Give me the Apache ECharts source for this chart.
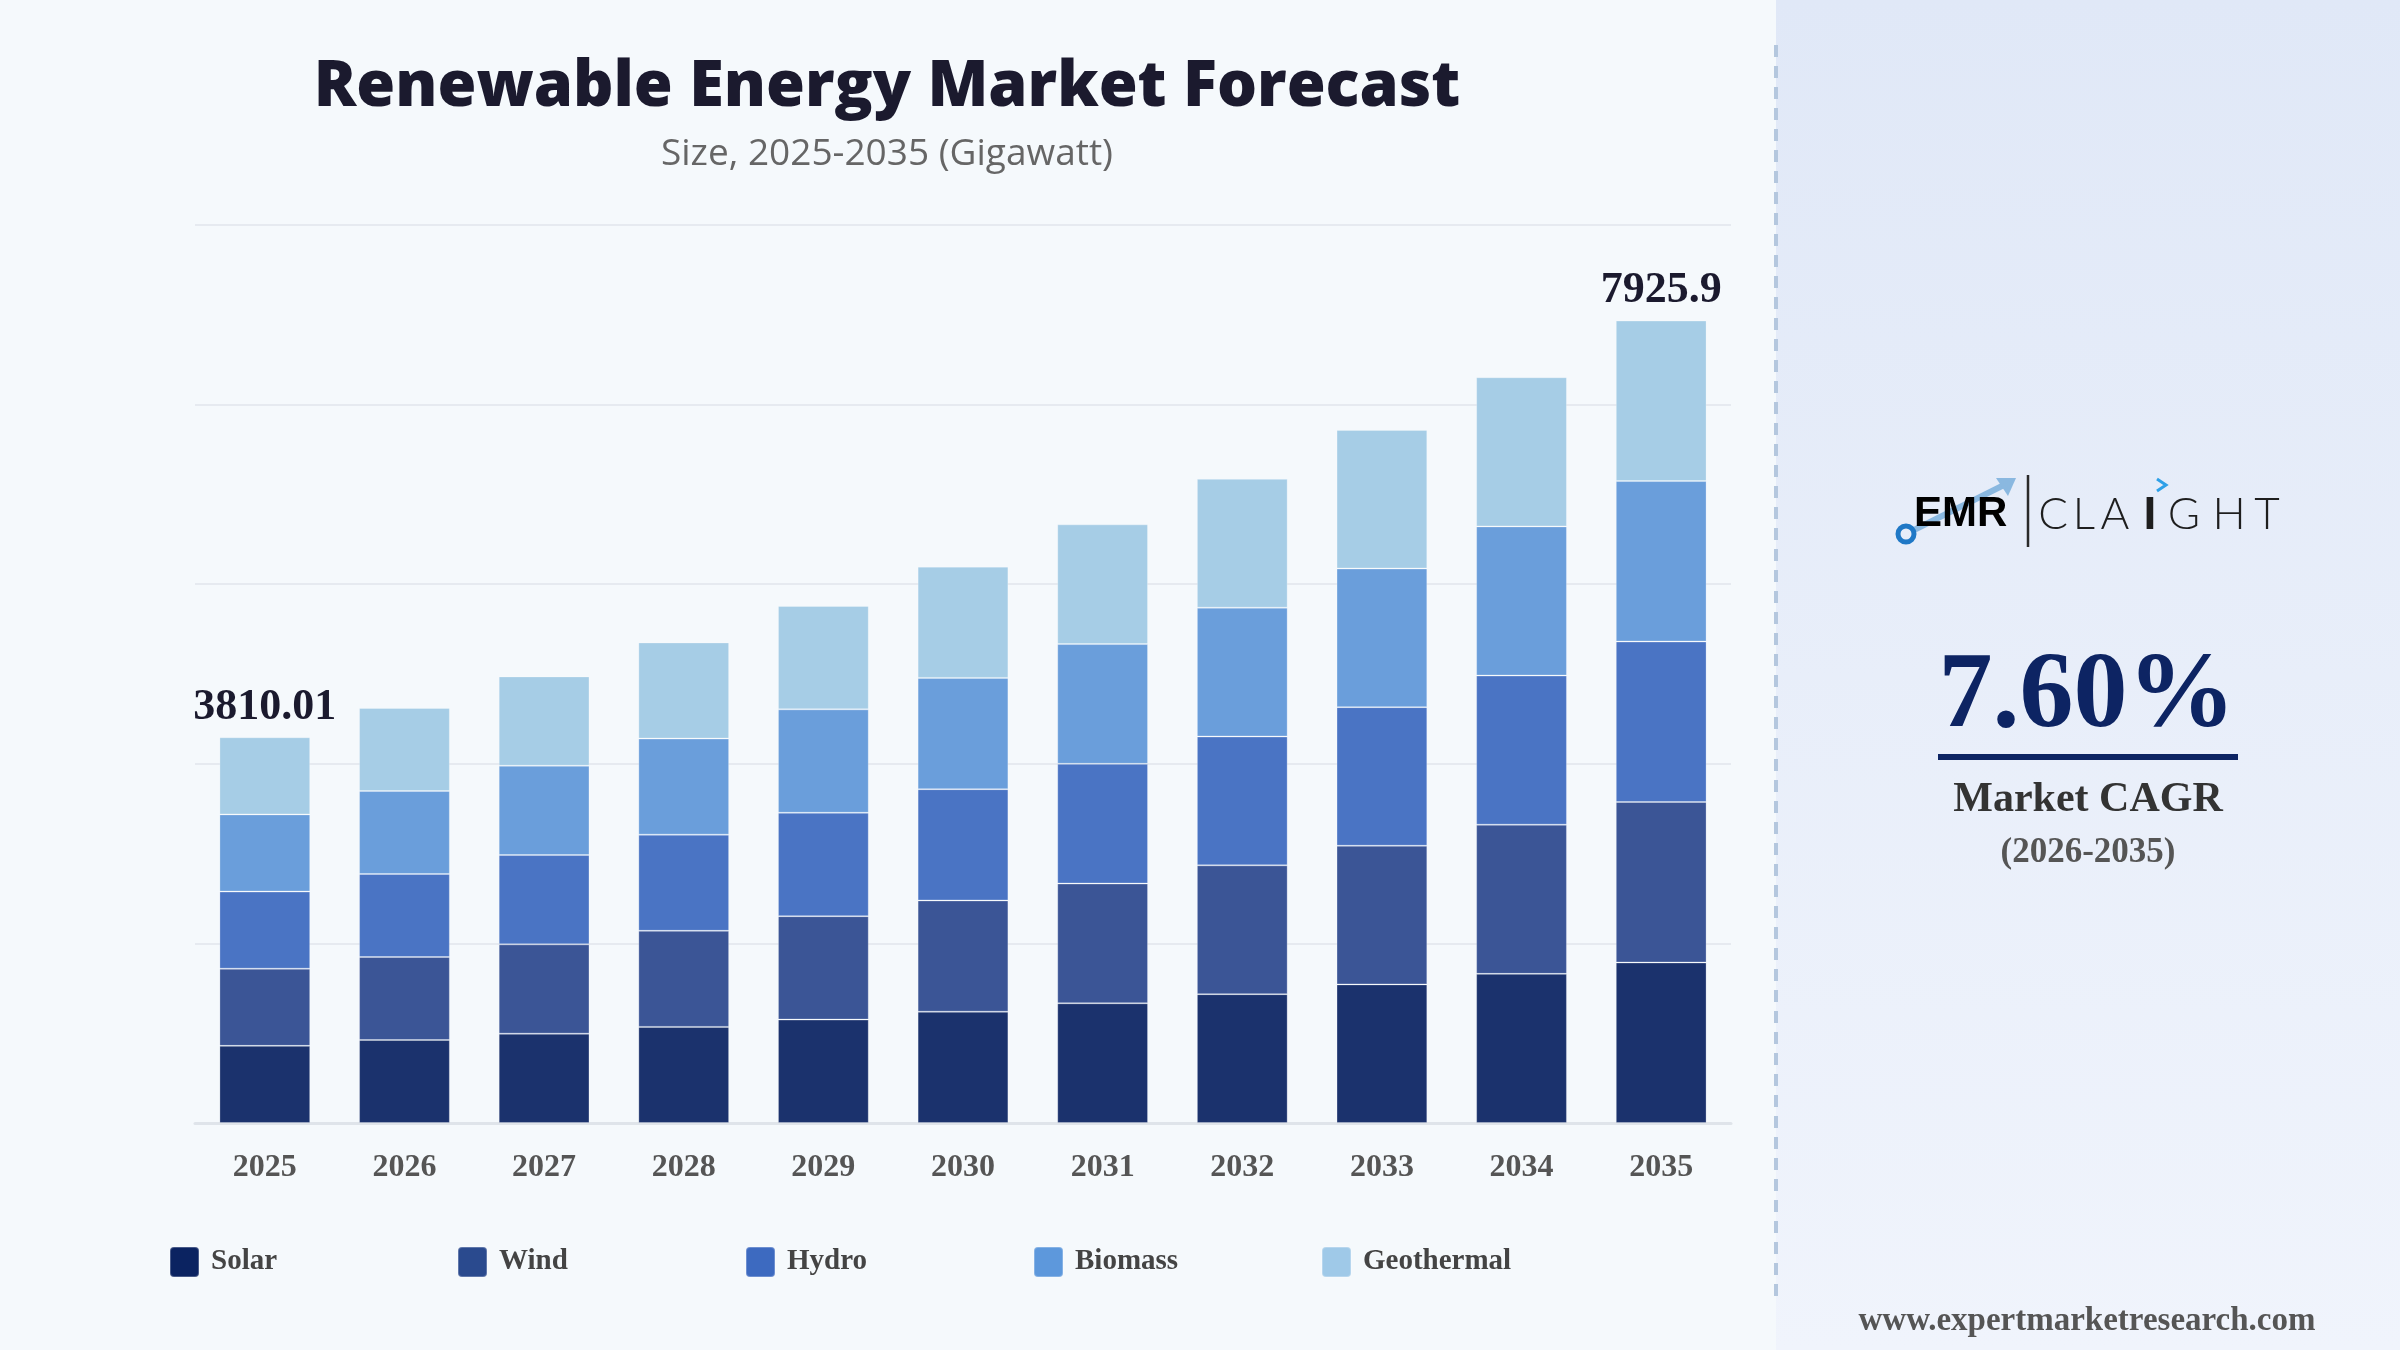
<!DOCTYPE html>
<html>
<head>
<meta charset="utf-8">
<script src="https://cdn.jsdelivr.net/npm/echarts@6/dist/echarts.min.js"></script>
<style>
  html, body { margin: 0; padding: 0; background: #f5f9fc; }
  #chart { width: 2400px; height: 1350px; }
</style>
</head>
<body>
<div id="chart"></div>
<script>
// values (Gigawatt), each year split evenly over 5 sources
const years = ['2025', '2026', '2027', '2028', '2029', '2030', '2031', '2032', '2033', '2034', '2035'];
const solar = [762.0, 819.9, 882.2, 949.3, 1021.4, 1099.1, 1182.6, 1272.5, 1369.2, 1473.2, 1585.2];
const wind = [762.0, 819.9, 882.2, 949.3, 1021.4, 1099.1, 1182.6, 1272.5, 1369.2, 1473.2, 1585.2];
const hydro = [762.0, 819.9, 882.2, 949.3, 1021.4, 1099.1, 1182.6, 1272.5, 1369.2, 1473.2, 1585.2];
const biomass = [762.0, 819.9, 882.2, 949.3, 1021.4, 1099.1, 1182.6, 1272.5, 1369.2, 1473.2, 1585.2];
const geothermal = [762.0, 819.9, 882.2, 949.3, 1021.4, 1099.1, 1182.6, 1272.5, 1369.2, 1473.2, 1585.2];
const topLabels = ['3810.01', '', '', '', '', '', '', '', '', '', '7925.9'];
const seriesNames = ['Solar', 'Wind', 'Hydro', 'Biomass', 'Geothermal'];

const barColors = ['#1b326d', '#3b5596', '#4a74c4', '#6a9edb', '#a6cde6'];
const legendColors = ['#0b2361', '#2a4a8e', '#3d6ac0', '#5d98dc', '#9fc9e8'];
const serif = 'Liberation Serif, Times New Roman, serif';

const myChart = echarts.init(document.getElementById('chart'));

const series = [solar, wind, hydro, biomass, geothermal].map((d, i) => ({
  name: seriesNames[i],
  type: 'bar',
  stack: 'total',
  data: d,
  barCategoryGap: '35%',
  itemStyle: {
    color: barColors[i],
    borderColor: 'rgba(255,255,255,0.25)',
    borderWidth: 1
  },
  emphasis: { disabled: true },
  label: i === 4 ? {
    show: true,
    position: 'top',
    distance: 8,
    formatter: p => topLabels[p.dataIndex],
    fontFamily: serif,
    fontWeight: 'bold',
    fontSize: 44,
    color: '#1b1a2e'
  } : { show: false }
}));

// one legend per item so they sit on an even 288px pitch
const legends = seriesNames.map((n, i) => ({
  left: 164 + 288 * i,
  top: 1241,
  itemWidth: 29,
  itemHeight: 30,
  icon: 'path://M4,0 H25 A4,4 0 0 1 29,4 V26 A4,4 0 0 1 25,30 H4 A4,4 0 0 1 0,26 V4 A4,4 0 0 1 4,0 Z',
  data: [{ name: n, itemStyle: { color: legendColors[i] } }],
  textStyle: {
    fontFamily: serif,
    fontWeight: 'bold',
    fontSize: 29,
    color: '#444',
    padding: [0, 0, 0, 7]
  },
  selectedMode: false
}));

const letters = [
  { t: 'C', x: 2053, w: 300 },
  { t: 'L', x: 2084, w: 300 },
  { t: 'A', x: 2115, w: 300 },
  { t: 'I', x: 2150, w: 900 },
  { t: 'G', x: 2184, w: 300 },
  { t: 'H', x: 2229, w: 300 },
  { t: 'T', x: 2267, w: 300 }
];

const options = {
  animation: false,
  grid: { left: 195, right: 669, top: 225, bottom: 227 },
  xAxis: {
    type: 'category',
    data: years,
    axisTick: { show: false },
    axisLine: { lineStyle: { color: '#dfe4ea', width: 3 } },
    axisLabel: {
      margin: 29,
      fontFamily: serif,
      fontWeight: 'bold',
      fontSize: 32,
      color: '#555'
    }
  },
  yAxis: {
    type: 'value',
    min: 0,
    max: 8870,
    interval: 1774,
    axisLabel: { show: false },
    axisLine: { show: false },
    axisTick: { show: false },
    splitLine: { lineStyle: { color: '#e6eaf0', width: 2 } }
  },
  legend: legends,
  graphic: [
    {
      type: 'rect', z: -10, silent: true,
      shape: { x: 1776, y: 0, width: 624, height: 1350 },
      style: {
        fill: new echarts.graphic.LinearGradient(0, 0, 0, 1, [
          { offset: 0, color: '#e0e8f7' },
          { offset: 1, color: '#f0f4fc' }
        ])
      }
    },
    {
      type: 'line', silent: true,
      shape: { x1: 1776, y1: 45, x2: 1776, y2: 1296 },
      style: { stroke: '#b4c7de', lineWidth: 4, lineDash: [12, 9] }
    },
    {
      type: 'text', silent: true,
      style: {
        text: 'Renewable Energy Market Forecast',
        x: 887, y: 88, align: 'center', verticalAlign: 'middle',
        font: '800 63px "Open Sans"', fill: '#1b1a2e'
      }
    },
    {
      type: 'text', silent: true,
      style: {
        text: 'Size, 2025-2035 (Gigawatt)',
        x: 887, y: 154, align: 'center', verticalAlign: 'middle',
        font: '37px "Open Sans"', fill: '#666'
      }
    },
    // logo
    {
      type: 'line', silent: true,
      shape: { x1: 1914, y1: 530, x2: 2006, y2: 484 },
      style: { stroke: '#8ab8e0', lineWidth: 6 }
    },
    {
      type: 'polygon', silent: true,
      shape: { points: [[1996, 478], [2016, 478], [2008, 496]] },
      style: { fill: '#8ab8e0' }
    },
    {
      type: 'circle', silent: true,
      shape: { cx: 1906, cy: 534, r: 8 },
      style: { fill: 'none', stroke: '#1f78c6', lineWidth: 5 }
    },
    {
      type: 'text', silent: true,
      style: {
        text: 'EMR', x: 1914, y: 514, align: 'left', verticalAlign: 'middle',
        font: 'bold 42px "Liberation Sans"',
        fill: new echarts.graphic.LinearGradient(0, 0, 1, 0, [
          { offset: 0, color: '#1a3670' },
          { offset: 1, color: '#2b5aa2' }
        ])
      }
    },
    {
      type: 'line', silent: true,
      shape: { x1: 2028, y1: 475, x2: 2028, y2: 547 },
      style: { stroke: '#2a2a2a', lineWidth: 2.5 }
    },
    {
      type: 'polyline', silent: true,
      shape: { points: [[2157, 479], [2166, 485], [2157, 491]] },
      style: { stroke: '#2ea0e8', lineWidth: 3, fill: 'none' }
    },
    ...letters.map(l => ({
      type: 'text', silent: true,
      style: {
        text: l.t, x: l.x, y: 515, align: 'center', verticalAlign: 'middle',
        font: l.w + ' 44px Lato', fill: '#1e1e1e'
      }
    })),
    // CAGR block
    {
      type: 'text', silent: true,
      style: {
        text: '7.60%', x: 2087, y: 698, align: 'center', verticalAlign: 'middle',
        font: 'bold 108px "Liberation Serif"', fill: '#0d2463'
      }
    },
    {
      type: 'rect', silent: true,
      shape: { x: 1938, y: 754, width: 300, height: 6 },
      style: { fill: '#0d2463' }
    },
    {
      type: 'text', silent: true,
      style: {
        text: 'Market CAGR', x: 2088, y: 800, align: 'center', verticalAlign: 'middle',
        font: 'bold 42px "Liberation Serif"', fill: '#333'
      }
    },
    {
      type: 'text', silent: true,
      style: {
        text: '(2026-2035)', x: 2088, y: 853, align: 'center', verticalAlign: 'middle',
        font: 'bold 35px "Liberation Serif"', fill: '#555'
      }
    },
    {
      type: 'text', silent: true,
      style: {
        text: 'www.expertmarketresearch.com', x: 2087, y: 1321, align: 'center', verticalAlign: 'middle',
        font: 'bold 33px "Liberation Serif"', fill: '#555'
      }
    }
  ],
  series: series
};

myChart.setOption(options);
</script>
</body>
</html>
